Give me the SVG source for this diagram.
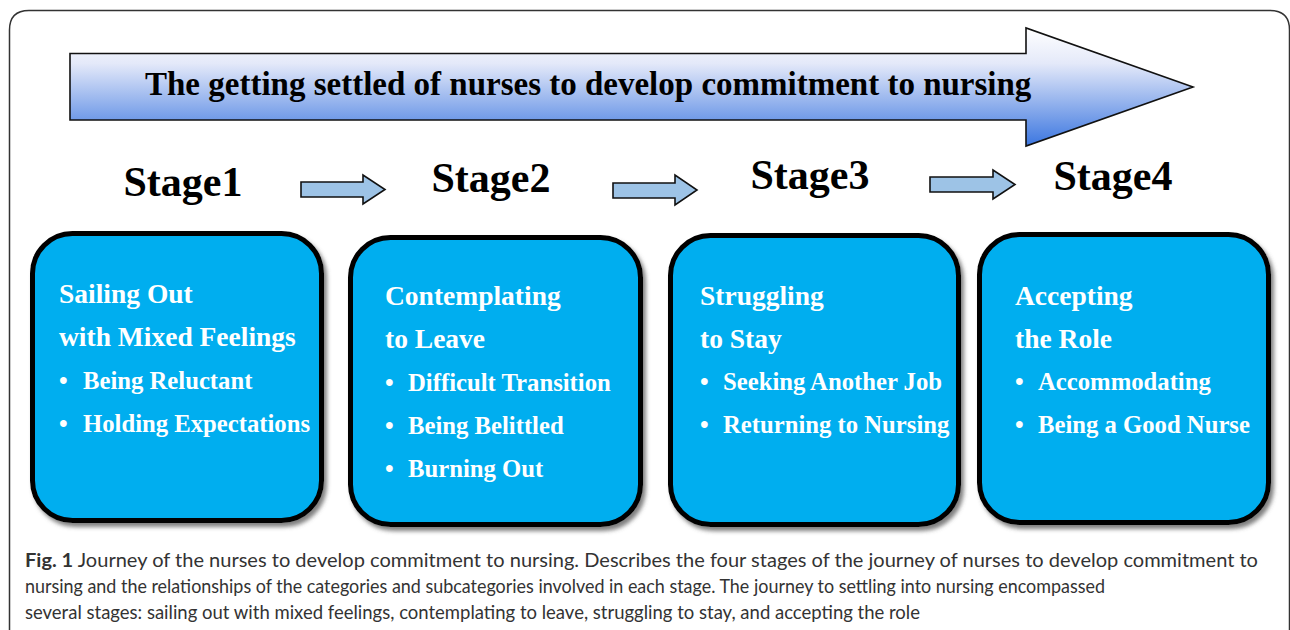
<svg xmlns="http://www.w3.org/2000/svg" width="1290" height="630" viewBox="0 0 1290 630">
  <style>
    .frame { fill: none; stroke: #333; stroke-width: 1.5; }
    .title { font-family: "Liberation Serif", "Times New Roman", serif; font-weight: bold; font-size: 33px; fill: #000; }
    .stage { font-family: "Liberation Serif", "Times New Roman", serif; font-weight: bold; font-size: 42px; fill: #000; text-anchor: middle; }
    .box { fill: #00aeef; stroke: #000; stroke-width: 5; filter: url(#shadow); }
    .head { font-family: "Liberation Serif", "Times New Roman", serif; font-weight: bold; font-size: 27.5px; fill: #fff; }
    .item { font-family: "Liberation Serif", "Times New Roman", serif; font-weight: bold; font-size: 24.7px; fill: #fff; }
    .step { fill: #9dc3e6; stroke: #111; stroke-width: 1.6; }
    .caption { font-family: "Lato", "Open Sans", sans-serif; font-size: 19px; fill: #333; }
    .caption .fig { font-weight: bold; }
  </style>
  <defs>
    <linearGradient id="bigArrowFill" gradientUnits="userSpaceOnUse" x1="0" y1="28" x2="0" y2="146">
      <stop offset="0" stop-color="#ffffff"/>
      <stop offset="0.3" stop-color="#e4e9f9"/>
      <stop offset="1" stop-color="#3b76e0"/>
    </linearGradient>
    <filter id="shadow" x="-10%" y="-10%" width="125%" height="125%">
      <feDropShadow dx="3" dy="4" stdDeviation="2" flood-color="#555" flood-opacity="0.75"/>
    </filter>
  </defs>

  <!-- figure frame, open at the bottom -->
  <path class="frame" d="M9.5,632 V30 Q9.5,10.5 29,10.5 H1270 Q1289.5,10.5 1289.5,30 V632"/>

  <!-- banner arrow with the overall theme -->
  <g id="banner">
    <polygon points="70,53.5 1026,53.5 1026,28 1193,87 1026,146 1026,120 70,120" fill="url(#bigArrowFill)" stroke="#111" stroke-width="1.6"/>
    <text class="title" x="145" y="95">The getting settled of nurses to develop commitment to nursing</text>
  </g>

  <!-- stage headings -->
  <g id="stage-labels">
    <text class="stage" x="183" y="196">Stage1</text>
    <text class="stage" x="491" y="192">Stage2</text>
    <text class="stage" x="810" y="189">Stage3</text>
    <text class="stage" x="1113" y="190">Stage4</text>
  </g>

  <!-- arrows between stages -->
  <g id="connectors">
    <polygon class="step" points="301,182 363,182 363,175 385,189.5 363,204 363,197 301,197"/>
    <polygon class="step" points="613,183 675,183 675,175 697,190 675,205 675,198 613,198"/>
    <polygon class="step" points="930,177 993,177 993,170 1015,184.5 993,199 993,192 930,192"/>
  </g>

  <g id="stage1">
    <rect class="box" x="32.5" y="233.5" width="289" height="287" rx="40"/>
    <text class="head" x="59" y="303">Sailing Out</text>
    <text class="head" x="59" y="346">with Mixed Feelings</text>
    <text class="item" x="59" y="389">•</text>
    <text class="item" x="83" y="389">Being Reluctant</text>
    <text class="item" x="59" y="432">•</text>
    <text class="item" x="83" y="432">Holding Expectations</text>
  </g>

  <g id="stage2">
    <rect class="box" x="350.5" y="237.5" width="290" height="287" rx="40"/>
    <text class="head" x="385" y="305">Contemplating</text>
    <text class="head" x="385" y="348">to Leave</text>
    <text class="item" x="385" y="391">•</text>
    <text class="item" x="408" y="391">Difficult Transition</text>
    <text class="item" x="385" y="434">•</text>
    <text class="item" x="408" y="434">Being Belittled</text>
    <text class="item" x="385" y="477">•</text>
    <text class="item" x="408" y="477">Burning Out</text>
  </g>

  <g id="stage3">
    <rect class="box" x="670.5" y="235.5" width="288" height="289" rx="40"/>
    <text class="head" x="700" y="305">Struggling</text>
    <text class="head" x="700" y="348">to Stay</text>
    <text class="item" x="700" y="390">•</text>
    <text class="item" x="723" y="390">Seeking Another Job</text>
    <text class="item" x="700" y="433">•</text>
    <text class="item" x="723" y="433">Returning to Nursing</text>
  </g>

  <g id="stage4">
    <rect class="box" x="979.5" y="234.5" width="289" height="288" rx="40"/>
    <text class="head" x="1015" y="305">Accepting</text>
    <text class="head" x="1015" y="348">the Role</text>
    <text class="item" x="1015" y="390">•</text>
    <text class="item" x="1038" y="390">Accommodating</text>
    <text class="item" x="1015" y="433">•</text>
    <text class="item" x="1038" y="433">Being a Good Nurse</text>
  </g>

  <!-- caption -->
  <g id="caption" class="caption">
    <text x="25" y="567" textLength="1233" lengthAdjust="spacingAndGlyphs"><tspan class="fig">Fig. 1</tspan> Journey of the nurses to develop commitment to nursing. Describes the four stages of the journey of nurses to develop commitment to</text>
    <text x="25" y="593" textLength="1080" lengthAdjust="spacingAndGlyphs">nursing and the relationships of the categories and subcategories involved in each stage. The journey to settling into nursing encompassed</text>
    <text x="25" y="619" textLength="895" lengthAdjust="spacingAndGlyphs">several stages: sailing out with mixed feelings, contemplating to leave, struggling to stay, and accepting the role</text>
  </g>
</svg>
